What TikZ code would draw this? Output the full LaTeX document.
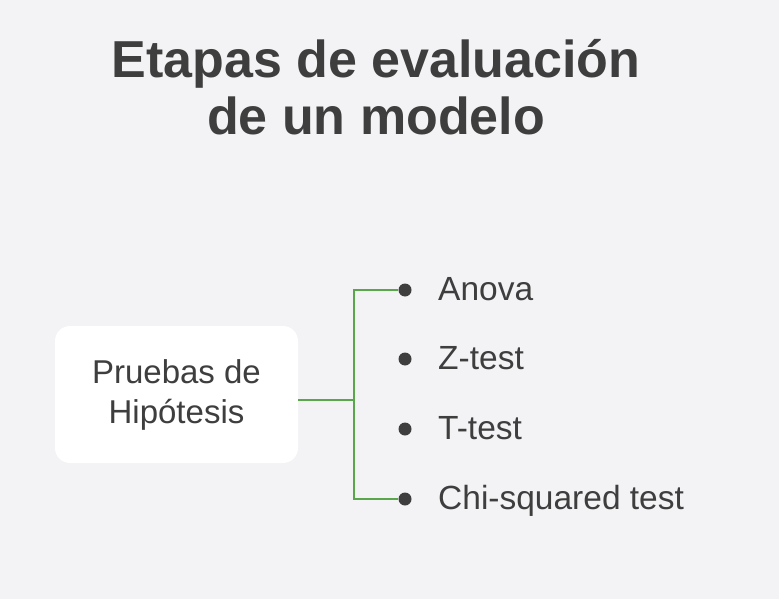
\documentclass[tikz,border=0pt]{standalone}
\usepackage{fontspec}
\setmainfont{Liberation Sans}
\usepackage{xcolor}
\usetikzlibrary{positioning}

\definecolor{bgc}{HTML}{F3F3F5}
\definecolor{ink}{HTML}{3E3E3E}
\definecolor{leaf}{HTML}{5AA64A}

\begin{document}
\begin{tikzpicture}[
  x=1pt, y=-1pt,
  heading/.style={font=\fontsize{52}{60}\selectfont\bfseries, text=ink, anchor=base, inner sep=0pt},
  block/.style={rectangle, fill=white, rounded corners=15pt,
                minimum width=243pt, minimum height=137pt,
                align=center, text=ink,
                font=\fontsize{33}{40}\selectfont},
  dot/.style={circle, fill=ink, minimum size=13pt, inner sep=0pt},
  item/.style={font=\fontsize{33.5}{38}\selectfont, text=ink, anchor=base west, inner sep=0pt},
  link/.style={draw=leaf, line width=2pt}
]
  %% -- background and frame --------------------------------------
  \fill[bgc] (0,0) rectangle (779,599);
  \useasboundingbox (0,0) rectangle (779,599);

  %% -- title -------------------------------------------------------
  \node[heading] (t1) at (376,78)  {Etapas de evaluación};
  \node[heading] (t2) at (376,135) {de un modelo};

  %% -- main box ----------------------------------------------------
  \node[block] (hyp) at (176.5,394.5) {Pruebas de\\Hipótesis};

  %% -- bullets and items -------------------------------------------
  \node[dot] (b1) at (405,290) {};
  \node[dot] (b2) at (405,359) {};
  \node[dot] (b3) at (405,429) {};
  \node[dot] (b4) at (405,499) {};
  \node[item] (anova) at (438,300) {Anova};
  \node[item] (ztest) at (438,369) {Z-test};
  \node[item] (ttest) at (438,439) {T-test};
  \node[item] (chisq) at (438,509) {Chi-squared test};

  %% -- connector ---------------------------------------------------
  \coordinate (fork) at (354,400);
  \draw[link] (hyp.east |- fork) -- (fork);
  \draw[link] (fork) |- (b1);
  \draw[link] (fork) |- (b4);
\end{tikzpicture}
\end{document}
